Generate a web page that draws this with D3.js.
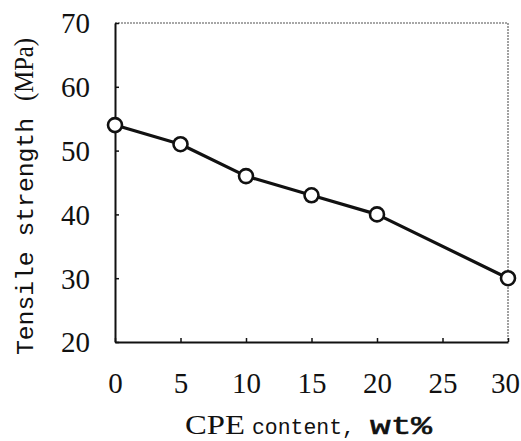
<!DOCTYPE html>
<html>
<head>
<meta charset="utf-8">
<script src="https://cdn.jsdelivr.net/npm/d3@7"></script>
<style>
  html, body { margin: 0; padding: 0; background: #fff; }
  svg { display: block; }
</style>
</head>
<body>
<svg id="chart" width="521" height="441"></svg>
<script>
// CPE content (wt%) and measured tensile strength (MPa)
const cpeContent = [0, 5, 10, 15, 20, 30];
const tensileStrength = [54, 51, 46, 43, 40, 30];
const xTicks = [0, 5, 10, 15, 20, 25, 30];
const yTicks = [20, 30, 40, 50, 60, 70];

const plot = { left: 115, right: 508, top: 23, bottom: 342 };
const serif = "'Liberation Serif', 'Times New Roman', serif";
const mono = "'Liberation Mono', 'Courier New', monospace";
const ink = "#111";

const svg = d3.select("#chart");

const x = d3.scaleLinear().domain([0, 30]).range([plot.left, plot.right]);
const y = d3.scaleLinear().domain([20, 70]).range([plot.bottom, plot.top]);

// top and right frame: light, grainy gray
svg.append("path")
  .attr("d", `M${plot.left},${plot.top}H${plot.right}V${plot.bottom}`)
  .attr("fill", "none")
  .attr("stroke", "#8a8a8a")
  .attr("stroke-width", 1.6)
  .attr("stroke-dasharray", "2,1");

// left axis with inward ticks
const yAxis = svg.append("g")
  .attr("transform", `translate(${plot.left},0)`)
  .attr("font-family", serif)
  .call(d3.axisLeft(y).tickValues(yTicks).tickSizeInner(-4).tickSizeOuter(0).tickPadding(25));
yAxis.select(".domain").attr("stroke", ink).attr("stroke-width", 2);
yAxis.selectAll(".tick line").attr("stroke", ink).attr("stroke-width", 1.5);
yAxis.selectAll(".tick text")
  .attr("fill", ink)
  .attr("dy", "0.34em")
  .style("font-family", serif)
  .style("font-size", "29px");

// bottom axis with inward ticks
const xAxis = svg.append("g")
  .attr("transform", `translate(0,${plot.bottom})`)
  .attr("font-family", serif)
  .call(d3.axisBottom(x).tickValues(xTicks).tickSizeInner(-4).tickSizeOuter(0).tickPadding(0));
xAxis.select(".domain").attr("stroke", ink).attr("stroke-width", 2);
xAxis.selectAll(".tick line").attr("stroke", ink).attr("stroke-width", 1.5);
xAxis.selectAll(".tick text")
  .attr("fill", ink)
  .attr("y", 41)
  .attr("dy", "0.34em")
  .style("font-family", serif)
  .style("font-size", "29px");
// keep the last label inside the page
xAxis.selectAll(".tick text").filter(d => d === 30).attr("x", -3);

// data line
const line = d3.line()
  .x((d, i) => x(cpeContent[i]))
  .y(d => y(d));

svg.append("path")
  .datum(tensileStrength)
  .attr("d", line)
  .attr("fill", "none")
  .attr("stroke", ink)
  .attr("stroke-width", 3.2)
  .attr("stroke-linejoin", "round");

// open circle markers
svg.selectAll("circle.pt")
  .data(tensileStrength)
  .join("circle")
  .attr("class", "pt")
  .attr("cx", (d, i) => x(cpeContent[i]))
  .attr("cy", d => y(d))
  .attr("r", 7)
  .attr("fill", "#fff")
  .attr("stroke", ink)
  .attr("stroke-width", 2.6);

// y axis title, read bottom to top
const yTitle = svg.append("text")
  .attr("transform", "translate(33,0) rotate(-90)")
  .attr("fill", ink);
yTitle.append("tspan")
  .attr("x", -355).attr("y", 0)
  .attr("textLength", 237).attr("lengthAdjust", "spacingAndGlyphs")
  .style("font-family", mono).style("font-size", "24.5px")
  .text("Tensile strength");
yTitle.append("tspan")
  .attr("x", -101).attr("y", 0)
  .attr("textLength", 63).attr("lengthAdjust", "spacingAndGlyphs")
  .style("font-family", serif).style("font-size", "27px")
  .text("(MPa)");

// x axis title
const xTitle = svg.append("text")
  .attr("fill", ink);
xTitle.append("tspan")
  .attr("x", 185).attr("y", 434)
  .attr("textLength", 60).attr("lengthAdjust", "spacingAndGlyphs")
  .style("font-family", serif).style("font-size", "28px")
  .text("CPE");
xTitle.append("tspan")
  .attr("x", 252).attr("y", 434)
  .attr("textLength", 103).attr("lengthAdjust", "spacingAndGlyphs")
  .style("font-family", mono).style("font-size", "22px")
  .text("content,");
xTitle.append("tspan")
  .attr("x", 370).attr("y", 434)
  .attr("textLength", 62).attr("lengthAdjust", "spacingAndGlyphs")
  .style("font-family", mono).style("font-size", "26px")
  .attr("stroke", ink).attr("stroke-width", 0.6)
  .text("wt%");
</script>
</body>
</html>
